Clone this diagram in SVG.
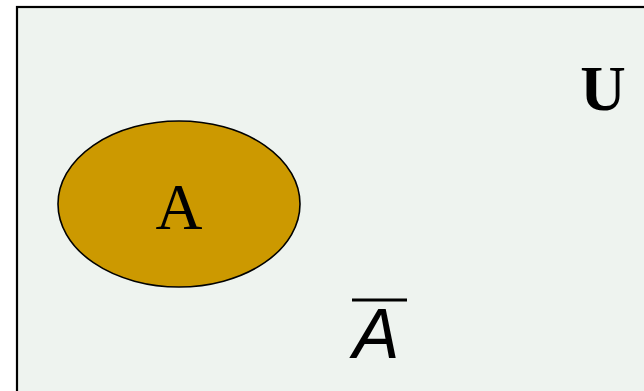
<svg xmlns="http://www.w3.org/2000/svg" width="644" height="391" viewBox="0 0 644 391">
<style>
.set{fill:#CC9900;stroke:#000;stroke-width:1.6}
.serif{font-family:"Liberation Serif","Times New Roman",serif;fill:#000}
.sans{font-family:"Liberation Sans",Arial,sans-serif;fill:#000}
</style>
<rect x="0" y="0" width="644" height="391" fill="#ffffff"/>
<g id="universe">
<rect x="17" y="7" width="640" height="400" fill="#EEF3EF" stroke="#000" stroke-width="2.2"/>
<text class="serif" x="603" y="110" font-size="63" font-weight="bold" text-anchor="middle">U</text>
</g>
<g id="setA">
<ellipse class="set" cx="179" cy="204" rx="121" ry="83"/>
<text class="serif" x="179" y="229" font-size="65" text-anchor="middle">A</text>
</g>
<g id="complement">
<text class="sans" x="376" y="358" font-size="70" font-style="italic" text-anchor="middle">A</text>
<line x1="352" y1="300" x2="407" y2="300" stroke="#000" stroke-width="3"/>
</g>
</svg>
